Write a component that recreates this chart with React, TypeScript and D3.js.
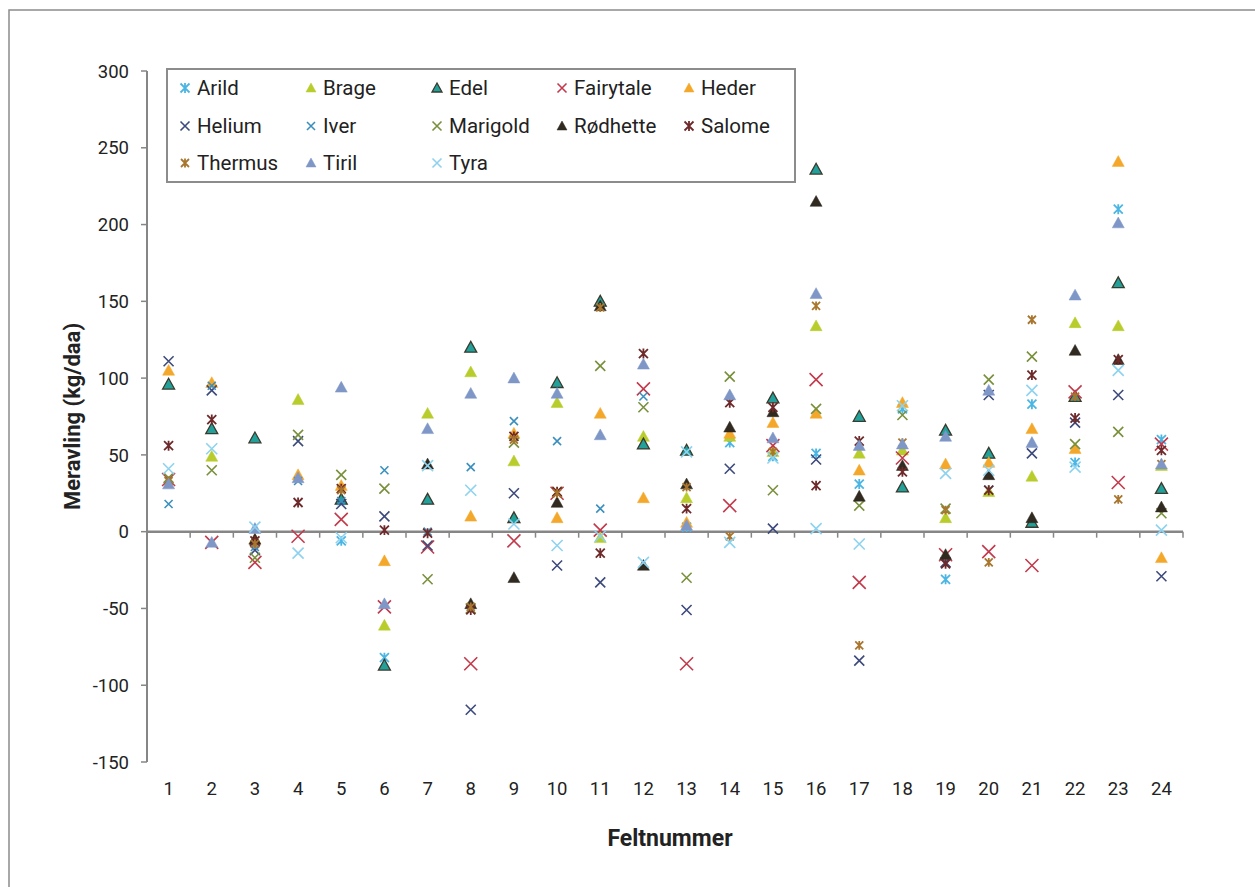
import React from "react";
import * as d3 from "d3";

const fields = d3.range(1, 25).map(String);
const yTicks = [-150, -100, -50, 0, 50, 100, 150, 200, 250, 300];

type N = number | null;
const Arild: N[] = [null, null, null, null, -6, -82, null, null, null, null, null, null, 3, 58, 49, 51, 31, 80, -31, 27, 83, 45, 210, 60];
const Brage: N[] = [null, 49, null, 86, null, -61, 77, 104, 46, 84, -4, 62, 22, 62, 52, 134, 51, 53, 9, 26, 36, 136, 134, 43];
const Edel: N[] = [96, 67, 61, null, 21, -87, 21, 120, 9, 97, 150, 57, 53, null, 87, 236, 75, 29, 66, 51, 6, 88, 162, 28];
const Fairytale: N[] = [34, -7, -20, -3, 8, -49, -10, -86, -6, 25, 1, 93, -86, 17, 56, 99, -33, 48, -15, -13, -22, 91, 32, 57];
const Heder: N[] = [105, 97, -5, 37, 30, -19, null, 10, 64, 9, 77, 22, 6, 64, 71, 77, 40, 84, 44, 45, 67, 54, 241, -17];
const Helium: N[] = [111, 92, -12, 59, 18, 10, -9, -116, 25, -22, -33, null, -51, 41, 2, 47, -84, null, -20, 89, 51, 71, 89, -29];
const Iver: N[] = [18, 95, -10, 33, 20, 40, 0, 42, 72, 59, 15, 88, null, null, null, null, null, null, null, null, null, null, null, null];
const Marigold: N[] = [35, 40, -17, 63, 37, 28, -31, -50, 58, 26, 108, 81, -30, 101, 27, 80, 17, 76, 15, 99, 114, 57, 65, 12];
const Rodhette: N[] = [null, null, -5, null, null, null, 44, -47, -30, 19, 147, -22, 31, 68, 78, 215, 23, 43, -15, 37, 9, 118, 112, 16];
const Salome: N[] = [56, 73, -6, 19, 28, 1, -1, -51, 62, 26, -14, 116, 15, 84, 81, 30, 59, 39, -21, 27, 102, 74, 112, 53];
const Thermus: N[] = [33, null, -8, null, 27, null, null, -49, 60, 25, 146, null, 29, -3, 52, 147, -74, 58, 14, -20, 138, 88, 21, 44];
const Tiril: N[] = [31, -7, 2, 35, 94, -47, 67, 90, 100, 90, 63, 109, 4, 89, 61, 155, 56, 57, 62, 92, 58, 154, 201, 44];
const Tyra: N[] = [41, 54, 3, -14, -4, null, 43, 27, 5, -9, -3, -20, 52, -7, 48, 2, -8, 82, 38, 40, 92, 42, 105, 1];

type Shape = "tri" | "x" | "star";
interface S { name: string; values: N[]; shape: Shape; color: string; stroke?: string; size: number; }

const series: S[] = [
  { name: "Arild", values: Arild, shape: "star", color: "#4bb6e4", size: 9 },
  { name: "Brage", values: Brage, shape: "tri", color: "#b8cc2c", size: 12 },
  { name: "Edel", values: Edel, shape: "tri", color: "#22a19a", stroke: "#3a3a2e", size: 12 },
  { name: "Fairytale", values: Fairytale, shape: "x", color: "#c23a4c", size: 13 },
  { name: "Heder", values: Heder, shape: "tri", color: "#f4a82b", size: 12 },
  { name: "Helium", values: Helium, shape: "x", color: "#3d4a7c", size: 10 },
  { name: "Iver", values: Iver, shape: "x", color: "#3a8fbe", size: 8 },
  { name: "Marigold", values: Marigold, shape: "x", color: "#78903a", size: 10 },
  { name: "Rødhette", values: Rodhette, shape: "tri", color: "#302a20", size: 12 },
  { name: "Salome", values: Salome, shape: "star", color: "#6e2a2a", size: 9 },
  { name: "Thermus", values: Thermus, shape: "star", color: "#a8762e", size: 8 },
  { name: "Tiril", values: Tiril, shape: "tri", color: "#7f97c7", size: 12 },
  { name: "Tyra", values: Tyra, shape: "x", color: "#8dd3f0", size: 11 },
];

const FONT = "Roboto, sans-serif";

function Marker({ s, cx, cy }: { s: S; cx: number; cy: number }) {
  const h = s.size / 2;
  if (s.shape === "tri") {
    const p = `M${cx},${cy - h}L${cx + h},${cy + h * 0.8}L${cx - h},${cy + h * 0.8}Z`;
    return <path d={p} fill={s.color} stroke={s.stroke || s.color} strokeWidth={s.stroke ? 1.3 : 0.5} />;
  }
  if (s.shape === "x") {
    return (
      <path d={`M${cx - h},${cy - h}L${cx + h},${cy + h}M${cx - h},${cy + h}L${cx + h},${cy - h}`}
        stroke={s.color} strokeWidth={1.6} fill="none" />
    );
  }
  return (
    <path d={`M${cx - h},${cy - h}L${cx + h},${cy + h}M${cx - h},${cy + h}L${cx + h},${cy - h}M${cx},${cy - h * 1.1}L${cx},${cy + h * 1.1}`}
      stroke={s.color} strokeWidth={1.8} fill="none" />
  );
}

export default function App() {
  const x = d3.scaleBand<string>().domain(fields).range([147, 1183]).padding(0);
  const y = d3.scaleLinear().domain([-150, 300]).range([762, 71]);
  const cx = (f: string) => (x(f) as number) + x.bandwidth() / 2;
  const y0 = y(0);
  const axisColor = "#868686";

  const legCols = [185, 311, 437, 562, 689];
  const legRows = [88, 126, 163];

  return (
    <svg width={1255} height={887} style={{ position: "absolute", left: 0, top: 0, background: "#fff" }}
      fontFamily={FONT}>
      <rect x={9} y={10} width={1300} height={1000} fill="#fff" stroke="#8c8c8c" strokeWidth={1.5} />
      {/* y axis */}
      <line x1={147} x2={147} y1={y(300)} y2={y(-150)} stroke={axisColor} strokeWidth={2} />
      {yTicks.map((t) => (
        <g key={t}>
          <line x1={141} x2={147} y1={y(t)} y2={y(t)} stroke={axisColor} strokeWidth={1.5} />
          <text x={129} y={y(t)} dy="0.36em" textAnchor="end" fontSize={18.5} fill="#222">{t}</text>
        </g>
      ))}
      {/* x axis at zero */}
      <line x1={147} x2={1183} y1={y0} y2={y0} stroke={axisColor} strokeWidth={2.5} />
      {fields.map((f) => (
        <line key={"t" + f} x1={(x(f) as number) + x.bandwidth()} x2={(x(f) as number) + x.bandwidth()}
          y1={y0} y2={y0 + 6} stroke={axisColor} strokeWidth={1.5} />
      ))}
      {fields.map((f) => (
        <text key={"l" + f} x={cx(f)} y={788} dy="0.36em" textAnchor="middle" fontSize={18.5} fill="#222">{f}</text>
      ))}
      {/* markers */}
      {series.map((s) => (
        <g key={s.name}>
          {s.values.map((v, i) =>
            v === null ? null : <Marker key={i} s={s} cx={cx(fields[i])} cy={y(v)} />
          )}
        </g>
      ))}
      {/* titles */}
      <text x={670} y={838} dy="0.36em" textAnchor="middle" fontSize={23} fontWeight="bold" fill="#222">Feltnummer</text>
      <text transform={`translate(72,${(y(300) + y(-150)) / 2}) rotate(-90)`} dy="0.36em" textAnchor="middle"
        fontSize={22} fontWeight="bold" fill="#222">Meravling (kg/daa)</text>
      {/* legend */}
      <rect x={167} y={69} width={628} height={113} fill="#fff" stroke="#8c8c8c" strokeWidth={2} />
      {series.map((s, i) => {
        const lx = legCols[i % 5];
        const ly = legRows[Math.floor(i / 5)];
        return (
          <g key={"leg" + s.name}>
            <Marker s={{ ...s, size: s.shape === "tri" ? 10 : Math.min(s.size, 9) }} cx={lx} cy={ly} />
            <text x={lx + 12} y={ly} dy="0.36em" fontSize={20.5} fill="#222">{s.name}</text>
          </g>
        );
      })}
    </svg>
  );
}
